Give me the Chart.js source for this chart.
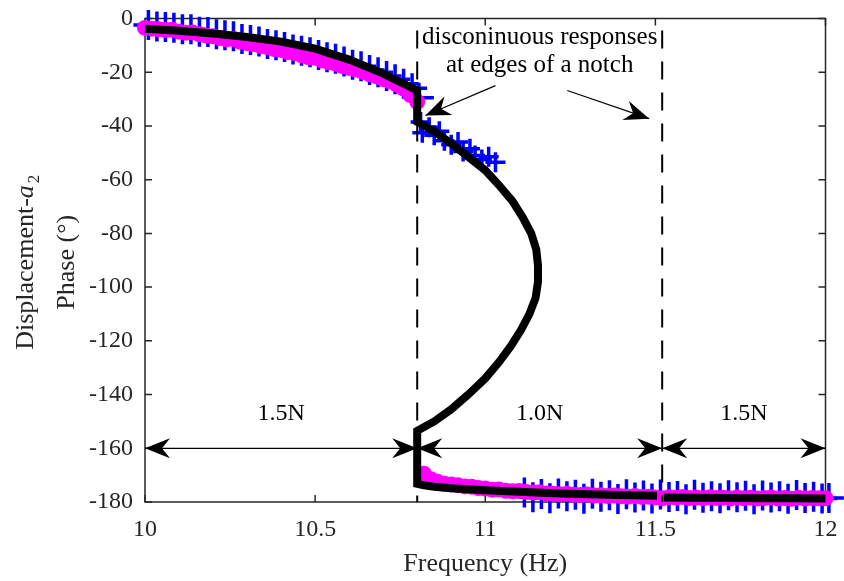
<!DOCTYPE html>
<html>
<head>
<meta charset="utf-8">
<script src="https://cdn.jsdelivr.net/npm/chart.js@4.4.0/dist/chart.umd.min.js"></script>
<style>
  html, body { margin: 0; padding: 0; background: #fff; }
  #wrap { width: 844px; height: 581px; }
</style>
</head>
<body>
<div id="wrap"><canvas id="phaseChart" width="844" height="581"></canvas></div>
<script>
// axis ticks
const xTickValues = [10, 10.5, 11, 11.5, 12];
const yTickValues = [0, -20, -40, -60, -80, -100, -120, -140, -160, -180];

// model curve (black), first piece runs up to the notch edge at 11.5
const modelFreqA = [10.0, 10.1, 10.2, 10.3, 10.4, 10.5, 10.6, 10.7, 10.8,
  10.8, 10.85, 10.9, 10.95, 11.0, 11.04, 11.08, 11.11, 11.135, 11.15, 11.155,
  11.155, 11.148, 11.13, 11.105, 11.075, 11.04, 11.0, 10.95, 10.9, 10.85, 10.8,
  10.8, 10.82, 10.85, 10.9, 11.0, 11.1, 11.2, 11.3, 11.4, 11.505];
const modelPhaseA = [-3.8, -4.6, -5.6, -6.9, -8.6, -11.2, -15.3, -20.5, -26.8,
  -38.5, -42, -46.5, -51.5, -56.5, -62, -68, -74, -80, -86, -92,
  -98, -104, -110, -116, -122, -128, -134, -140, -145.5, -150, -153.5,
  -173.2, -173.8, -174.3, -174.9, -175.6, -176.2, -176.7, -177.1, -177.4, -177.7];
const modelFreqB = [11.525, 11.6, 11.7, 11.8, 11.9, 12.0];
const modelPhaseB = [-178.3, -178.4, -178.5, -178.6, -178.6, -178.7];

// measured, sweep 1 (magenta circles)
const sweepFreqUpper = [10.00, 10.02, 10.04, 10.06, 10.08, 10.10, 10.12, 10.14, 10.16, 10.18,
  10.20, 10.22, 10.24, 10.26, 10.28, 10.30, 10.32, 10.34, 10.36, 10.38,
  10.40, 10.42, 10.44, 10.46, 10.48, 10.50, 10.52, 10.54, 10.56, 10.58,
  10.60, 10.62, 10.64, 10.66, 10.68, 10.70, 10.72, 10.74, 10.76, 10.78, 10.80];
const sweepPhaseUpper = [-3.5, -3.8, -4.0, -4.3, -4.2, -4.9, -5.3, -5.2, -5.9, -6.4,
  -6.6, -7.3, -7.8, -7.6, -8.7, -9.2, -9.5, -10.3, -10.6, -11.4,
  -11.7, -12.5, -12.9, -13.7, -14.4, -14.6, -15.6, -16.3, -16.8, -17.7,
  -18.4, -19.0, -19.9, -20.8, -21.5, -22.6, -23.4, -24.6, -26.1, -28.5, -31.0];
const sweepFreqLower = [10.82, 10.84, 10.86, 10.88, 10.90, 10.92, 10.94, 10.96, 10.98, 11.00,
  11.02, 11.04, 11.06, 11.08, 11.10, 11.12, 11.14, 11.16, 11.18, 11.20,
  11.22, 11.24, 11.26, 11.28, 11.30, 11.32, 11.34, 11.36, 11.38, 11.40,
  11.42, 11.44, 11.46, 11.48, 11.50, 11.52, 11.54, 11.56, 11.58, 11.60,
  11.62, 11.64, 11.66, 11.68, 11.70, 11.72, 11.74, 11.76, 11.78, 11.80,
  11.82, 11.84, 11.86, 11.88, 11.90, 11.92, 11.94, 11.96, 11.98, 12.00];
const sweepPhaseLower = [-169.5, -171.5, -172.5, -173.2, -173.5, -173.8, -174.2, -174.3, -174.8, -175.0,
  -175.4, -175.3, -175.8, -176.0, -175.9, -176.3, -176.5, -176.4, -176.8, -176.9,
  -177.1, -176.9, -177.3, -177.4, -177.2, -177.6, -177.5, -177.8, -177.6, -177.9,
  -178.0, -177.8, -178.1, -178.0, -178.3, -178.6, -178.2, -178.4, -178.1, -178.5,
  -178.3, -178.6, -178.2, -178.5, -178.4, -178.7, -178.3, -178.6, -178.4, -178.7,
  -178.5, -178.3, -178.7, -178.5, -178.8, -178.4, -178.7, -178.5, -178.6, -178.6];

// measured, sweep 2 (blue crosses)
const crossFreqUpper = [10.01, 10.035, 10.06, 10.085, 10.11, 10.135, 10.16, 10.185, 10.21, 10.235,
  10.26, 10.285, 10.31, 10.335, 10.36, 10.385, 10.41, 10.435, 10.46, 10.485,
  10.51, 10.535, 10.56, 10.585, 10.61, 10.635, 10.66, 10.685, 10.71, 10.735,
  10.76, 10.785, 10.805];
const crossPhaseUpper = [-2.4, -3.0, -3.2, -3.4, -4.0, -4.0, -4.9, -5.0, -5.9, -6.2,
  -6.6, -7.6, -8.0, -8.6, -9.5, -10.0, -10.6, -11.5, -12.0, -12.6,
  -13.6, -14.4, -15.0, -16.0, -17.2, -17.8, -19.2, -20.0, -21.4, -22.6,
  -24.3, -26.0, -29.5];
const crossFreqNotch = [10.81, 10.815, 10.835, 10.85, 10.865, 10.88, 10.9, 10.92, 10.935, 10.955,
  10.97, 10.99, 11.01, 11.03];
const crossPhaseNotch = [-38.5, -42.5, -40.5, -43.5, -42.0, -45.5, -47.0, -46.0, -49.5, -48.5,
  -51.0, -52.5, -51.5, -53.5];
const crossFreqLower = [11.115, 11.14, 11.165, 11.19, 11.215, 11.24, 11.265, 11.29, 11.315, 11.34,
  11.365, 11.39, 11.415, 11.44, 11.465, 11.49, 11.515, 11.54, 11.565, 11.59,
  11.615, 11.64, 11.665, 11.69, 11.715, 11.74, 11.765, 11.79, 11.815, 11.84,
  11.865, 11.89, 11.915, 11.94, 11.965, 11.99, 12.01];
const crossPhaseLower = [-176.5, -178.2, -177.0, -178.6, -176.8, -177.9, -177.3, -178.8, -176.9, -178.0,
  -177.5, -178.9, -177.1, -178.3, -177.6, -178.7, -177.2, -178.1, -177.8, -179.0,
  -177.3, -178.4, -177.9, -178.6, -177.5, -178.2, -177.7, -179.0, -177.6, -178.3,
  -177.9, -178.8, -177.4, -178.5, -178.0, -178.7, -178.5];

// annotations
const notchEdges = [10.8, 11.52];
const forceSpans = [[10, 10.8], [10.8, 11.52], [11.52, 12]];
const forceLabels = ['1.5N', '1.0N', '1.5N'];
const forceLevel = -160;
const noteLines = ['disconinuous responses', 'at edges of a notch'];

const pts = (xs, ys) => xs.map((x, i) => ({ x: x, y: ys[i] }));
const SERIF = "'Liberation Serif', 'Times New Roman', serif";

Chart.defaults.font.family = SERIF;
Chart.defaults.color = '#262626';

function arrowHead(ctx, tx, ty, fx, fy) {
    // filled head at (tx,ty), pointing away from (fx,fy)
    const ang = Math.atan2(ty - fy, tx - fx);
    const len = 25, half = 10, notch = 8;
    const c = Math.cos(ang), s = Math.sin(ang);
    ctx.beginPath();
    ctx.moveTo(tx, ty);
    ctx.lineTo(tx - len * c - half * s, ty - len * s + half * c);
    ctx.lineTo(tx - (len - notch) * c, ty - (len - notch) * s);
    ctx.lineTo(tx - len * c + half * s, ty - len * s - half * c);
    ctx.closePath();
    ctx.fill();
}

const frameAndTicks = {
    id: 'frameAndTicks',
    beforeDatasetsDraw(chart) {
        const { ctx, chartArea: a, scales: { x, y } } = chart;
        ctx.save();
        ctx.strokeStyle = '#262626';
        ctx.lineWidth = 1.5;
        ctx.strokeRect(a.left, a.top, a.right - a.left, a.bottom - a.top);
        ctx.beginPath();
        xTickValues.forEach(v => {
            const p = x.getPixelForValue(v);
            ctx.moveTo(p, a.bottom); ctx.lineTo(p, a.bottom - 7);
            ctx.moveTo(p, a.top); ctx.lineTo(p, a.top + 7);
        });
        yTickValues.forEach(v => {
            const p = y.getPixelForValue(v);
            ctx.moveTo(a.left, p); ctx.lineTo(a.left + 7, p);
            ctx.moveTo(a.right, p); ctx.lineTo(a.right - 7, p);
        });
        ctx.stroke();
        ctx.restore();
    }
};

const notchNotes = {
    id: 'notchNotes',
    afterDatasetsDraw(chart) {
        const { ctx, scales: { x, y } } = chart;
        ctx.save();

        // dashed notch edges
        ctx.strokeStyle = '#000';
        ctx.lineWidth = 2;
        ctx.setLineDash([18, 13]);
        notchEdges.forEach(f => {
            const px = x.getPixelForValue(f);
            ctx.beginPath();
            ctx.moveTo(px, y.getPixelForValue(-4.5));
            ctx.lineTo(px, y.getPixelForValue(-180));
            ctx.stroke();
        });
        ctx.setLineDash([]);

        // force level double arrows
        ctx.fillStyle = '#000';
        ctx.lineWidth = 1.2;
        ctx.font = '24px ' + SERIF;
        ctx.textAlign = 'center';
        ctx.textBaseline = 'middle';
        const py = y.getPixelForValue(forceLevel);
        forceSpans.forEach((span, i) => {
            const x0 = x.getPixelForValue(span[0]);
            const x1 = x.getPixelForValue(span[1]);
            ctx.beginPath();
            ctx.moveTo(x0, py); ctx.lineTo(x1, py);
            ctx.stroke();
            arrowHead(ctx, x0, py, x1, py);
            arrowHead(ctx, x1, py, x0, py);
            ctx.fillText(forceLabels[i], x.getPixelForValue((span[0] + span[1]) / 2), y.getPixelForValue(-147));
        });

        // note text and pointers
        ctx.font = '25px ' + SERIF;
        const cx = x.getPixelForValue((notchEdges[0] + notchEdges[1]) / 2);
        ctx.fillText(noteLines[0], cx, y.getPixelForValue(-7.0));
        ctx.fillText(noteLines[1], cx, y.getPixelForValue(-17.6));
        const pointers = [[11.03, -25, 10.824, -36.1], [11.241, -26.8, 11.482, -37.3]];
        pointers.forEach(p => {
            const fx = x.getPixelForValue(p[0]), fy = y.getPixelForValue(p[1]);
            const tx = x.getPixelForValue(p[2]), ty = y.getPixelForValue(p[3]);
            ctx.beginPath();
            ctx.moveTo(fx, fy); ctx.lineTo(tx, ty);
            ctx.stroke();
            arrowHead(ctx, tx, ty, fx, fy);
        });
        ctx.restore();
    }
};

const axisTitles = {
    id: 'axisTitles',
    afterDraw(chart) {
        const { ctx, chartArea: a } = chart;
        ctx.save();
        ctx.fillStyle = '#262626';
        ctx.textBaseline = 'alphabetic';

        // x title
        ctx.font = '26px ' + SERIF;
        ctx.textAlign = 'center';
        ctx.fillText('Frequency (Hz)', (a.left + a.right) / 2, 571);

        // y title, two lines, rotated
        const midY = (a.top + a.bottom) / 2 + 2;
        ctx.translate(33, midY);
        ctx.rotate(-Math.PI / 2);
        ctx.textAlign = 'left';
        const normal = '26px ' + SERIF, italic = 'italic 26px ' + SERIF, small = '17px ' + SERIF;
        ctx.font = normal; const w1 = ctx.measureText('Displacement-').width;
        ctx.font = italic; const w2 = ctx.measureText('a').width;
        ctx.font = small; const w3 = ctx.measureText('2').width;
        let sx = -(w1 + w2 + w3 + 2) / 2;
        ctx.font = normal; ctx.fillText('Displacement-', sx, 0); sx += w1;
        ctx.font = italic; ctx.fillText('a', sx, 0); sx += w2 + 2;
        ctx.font = small; ctx.fillText('2', sx, 6);
        ctx.font = normal;
        ctx.textAlign = 'center';
        ctx.fillText('Phase (\u00B0)', 0, 41);
        ctx.restore();
    }
};

const noScalePadding = s => {
    s.paddingLeft = 0; s.paddingRight = 0; s.paddingTop = 0; s.paddingBottom = 0;
};

new Chart(document.getElementById('phaseChart'), {
    type: 'scatter',
    data: {
        datasets: [
            {
                label: 'model',
                data: pts(modelFreqA, modelPhaseA),
                showLine: true,
                borderColor: '#000',
                borderWidth: 8,
                borderJoinStyle: 'miter',
                pointRadius: 0,
                clip: false,
                order: 1
            },
            {
                label: 'model (after notch)',
                data: pts(modelFreqB, modelPhaseB),
                showLine: true,
                borderColor: '#000',
                borderWidth: 8,
                pointRadius: 0,
                clip: false,
                order: 1
            },
            {
                label: 'sweep 1',
                data: pts(sweepFreqUpper, sweepPhaseUpper).concat(pts(sweepFreqLower, sweepPhaseLower)),
                pointStyle: 'circle',
                pointRadius: 8,
                backgroundColor: '#ff00ff',
                borderWidth: 0,
                clip: false,
                order: 2
            },
            {
                label: 'sweep 2',
                data: pts(crossFreqUpper, crossPhaseUpper).concat(pts(crossFreqLower, crossPhaseLower)),
                pointStyle: 'cross',
                pointRadius: 15,
                borderColor: '#0000ff',
                borderWidth: 3.5,
                clip: false,
                order: 3
            },
            {
                label: 'sweep 2 (notch)',
                data: pts(crossFreqNotch, crossPhaseNotch),
                pointStyle: 'cross',
                pointRadius: 10,
                borderColor: '#0000ff',
                borderWidth: 3.5,
                clip: false,
                order: 3
            }
        ]
    },
    options: {
        responsive: false,
        animation: false,
        layout: { padding: { left: 0, top: 18, right: 15, bottom: 0 } },
        plugins: {
            legend: { display: false },
            tooltip: { enabled: false }
        },
        scales: {
            x: {
                type: 'linear',
                min: 10,
                max: 12,
                grid: { display: false, drawTicks: false },
                border: { display: false },
                afterBuildTicks: s => { s.ticks = xTickValues.map(v => ({ value: v })); },
                afterFit: s => { s.height = 79; noScalePadding(s); },
                ticks: {
                    padding: 13,
                    maxRotation: 0,
                    font: { size: 24 },
                    color: '#262626',
                    callback: v => String(v)
                }
            },
            y: {
                type: 'linear',
                min: -180,
                max: 0,
                grid: { display: false, drawTicks: false },
                border: { display: false },
                afterBuildTicks: s => { s.ticks = yTickValues.map(v => ({ value: v })); },
                afterFit: s => { s.width = 145; noScalePadding(s); },
                ticks: {
                    padding: 12,
                    font: { size: 24 },
                    color: '#262626',
                    callback: v => String(v)
                }
            }
        }
    },
    plugins: [frameAndTicks, notchNotes, axisTitles]
});
</script>
</body>
</html>
